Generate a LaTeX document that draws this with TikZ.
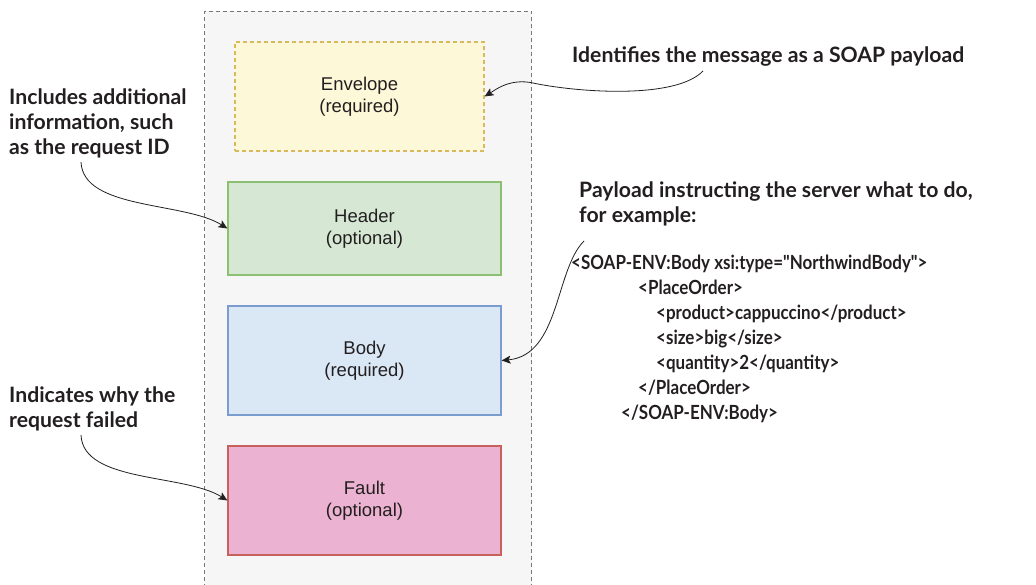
\documentclass[tikz,border=0pt]{standalone}
\usepackage{fontspec}
\setmainfont{Liberation Sans}
\newfontfamily\notefont{Lato}
\newfontfamily\codefont{Lato}[FakeStretch=0.87]
\usetikzlibrary{arrows.meta, positioning}
\definecolor{msgfill}{HTML}{F5F6F5}
\definecolor{msgline}{HTML}{777777}
\definecolor{envfill}{HTML}{FDF8D8}
\definecolor{envline}{HTML}{D9B95C}
\definecolor{hdrfill}{HTML}{D6E8D4}
\definecolor{hdrline}{HTML}{8DBF72}
\definecolor{bodyfill}{HTML}{DAE8F6}
\definecolor{bodyline}{HTML}{7A9CCF}
\definecolor{faultfill}{HTML}{EBB3D1}
\definecolor{faultline}{HTML}{C8615E}
\definecolor{ink}{HTML}{231F20}

\begin{document}
\begin{tikzpicture}[x=1pt, y=-1pt,
    part/.style={line width=1.2pt, minimum width=273pt, minimum height=109pt, align=center, text=ink,
      font=\fontsize{18.5}{21.5}\selectfont},
    note/.style={anchor=north west, inner sep=0pt, align=left, text=ink,
      font=\notefont\bfseries\fontsize{21.2}{25}\selectfont},
    arr/.style={-{Stealth[length=9pt, width=8pt, inset=2pt]}, line width=0.8pt, ink}]
    \useasboundingbox (0,0) rectangle (1036,584);

    % Nachricht als gestrichelter Rahmen
    \node[draw=msgline, fill=msgfill, dash pattern=on 4pt off 3pt, line width=1pt,
      minimum width=327pt, minimum height=600pt, inner sep=0pt] (msg) at (368,311) {};

    % die vier Teile
    \node[part, draw=envline, fill=envfill, dash pattern=on 4pt off 3pt, minimum width=249pt] (env) at (359.5,96.5) {Envelope\\(required)};
    \node[part, draw=hdrline, fill=hdrfill, minimum height=93pt] (hdr) at (364.5,228.5) {Header\\(optional)};
    \node[part, draw=bodyline, fill=bodyfill] (body) at (364.5,360.5) {Body\\(required)};
    \node[part, draw=faultline, fill=faultfill] (fault) at (364.5,500.5) {Fault\\(optional)};

    % Erklaerungen
    \node[note, anchor=base west] (idnote) at (572,62) {Identifies the message as a SOAP payload};
    \node[note] (incnote) at (9,89) {Includes additional\\information, such\\as the request ID};
    \node[note] (whynote) at (9,387) {Indicates why the\\request failed};
    \node[note] (paynote) at (579,182) {Payload instructing the server what to do,\\for example:};
    \node[note, font=\codefont\bfseries\fontsize{19.5}{25}\selectfont] (code) at (571,255) {<SOAP-ENV:Body xsi:type="NorthwindBody">\\
      \hspace*{67pt}<PlaceOrder>\\
      \hspace*{85pt}<product>cappuccino</product>\\
      \hspace*{85pt}<size>big</size>\\
      \hspace*{85pt}<quantity>2</quantity>\\
      \hspace*{67pt}</PlaceOrder>\\
      \hspace*{50pt}</SOAP-ENV:Body>};

    % Startpunkte der Pfeile
    \coordinate (idfrom) at (703,71);
    \coordinate (incfrom) at (81,162);
    \coordinate (whyfrom) at (81,435);
    \coordinate (payfrom) at (584,241);

    \draw[arr] (idfrom) .. controls (675,100) and (575,92) .. (533,83) .. controls (510,78) and (495,90) .. (env.east);
    \draw[arr] (incfrom) .. controls +(2,48) and +(-43,-27) .. (hdr.west);
    \draw[arr] (payfrom) .. controls (555,270) and (560,355) .. (body.east);
    \draw[arr] (whyfrom) .. controls +(2,48) and +(-43,-27) .. (fault.west);
\end{tikzpicture}
\end{document}
